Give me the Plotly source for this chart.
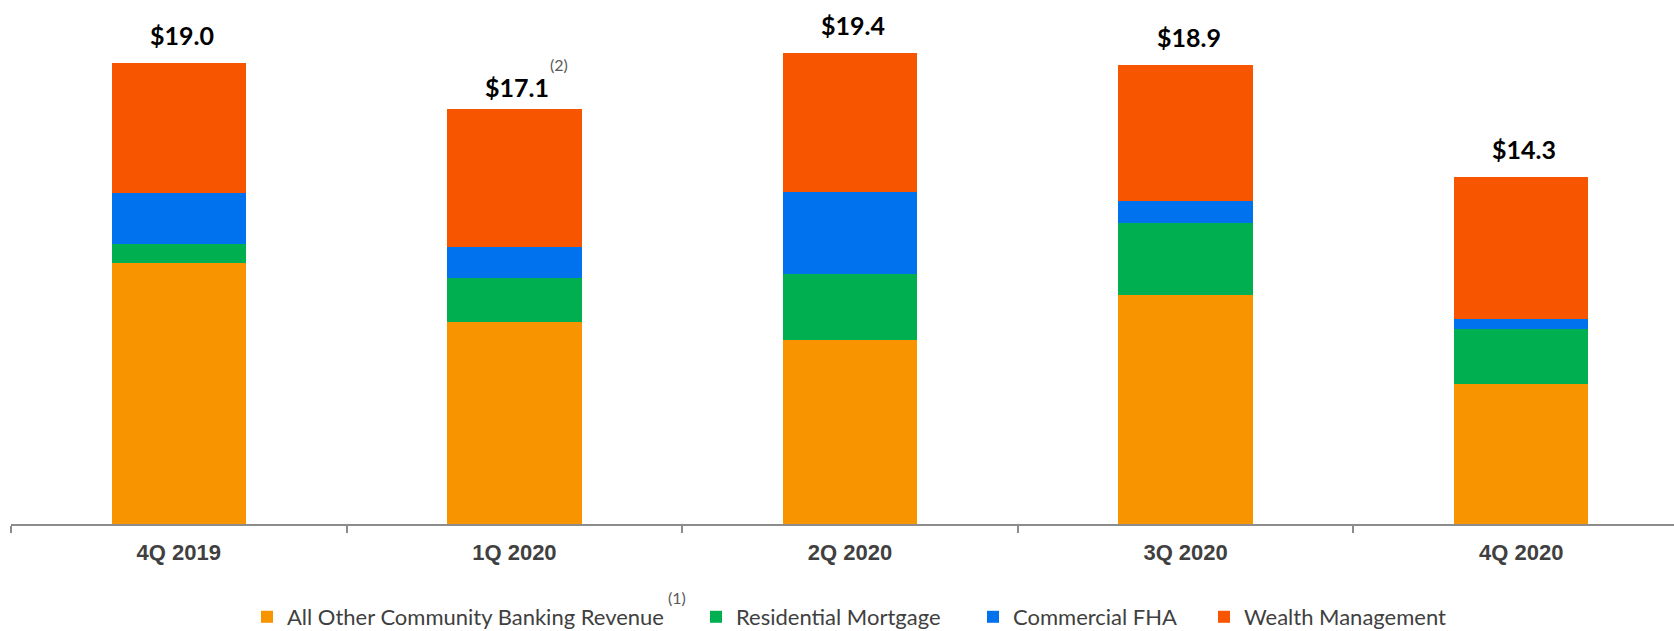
import plotly.graph_objects as go

categories = ["4Q 2019", "1Q 2020", "2Q 2020", "3Q 2020", "4Q 2020"]
all_other = [10.75, 8.32, 7.58, 9.42, 5.77]
residential = [0.77, 1.81, 2.70, 2.99, 2.27]
commercial_fha = [2.09, 1.27, 3.41, 0.89, 0.40]
wealth = [5.39, 5.70, 5.71, 5.60, 5.86]
totals = [19.0, 17.1, 19.4, 18.9, 14.3]
total_labels = ["$19.0", "$17.1", "$19.4", "$18.9", "$14.3"]

series = [
    ("All Other Community Banking Revenue", all_other, "#F79400", "legend"),
    ("Residential Mortgage", residential, "#00B050", "legend2"),
    ("Commercial FHA", commercial_fha, "#0072EE", "legend3"),
    ("Wealth Management", wealth, "#F75500", "legend4"),
]

fig = go.Figure()
for name, vals, color, lg in series:
    fig.add_trace(go.Bar(
        x=categories, y=vals, name=name, width=0.4,
        marker=dict(color=color, line=dict(width=0)),
        legend=lg, hoverinfo="x+y+name",
    ))

W, H = 1674, 631
ml, mr, mt, mb = 11, 0, 14, 107
pw = W - ml - mr
ph = H - mt - mb
axis_px = H - mb

def px_to_paper_x(px):
    return (px - ml) / pw

def px_to_paper_y(py):
    return (axis_px - py) / ph

label_font = dict(family="Lato, Calibri, Carlito, sans-serif", size=25, color="#000000")
annotations = []
for i, (t, lab) in enumerate(zip(totals, total_labels)):
    annotations.append(dict(
        x=categories[i], y=t, xref="x", yref="y", text="<b>%s</b>" % lab,
        showarrow=False, yanchor="bottom", yshift=11 if i != 1 else 5, xshift=3,
        font=label_font,
    ))
# footnote markers
annotations.append(dict(
    x=categories[1], y=totals[1], xref="x", yref="y", text="(2)",
    showarrow=False, yanchor="middle", xanchor="center", xshift=45, yshift=44,
    font=dict(family="Lato, Calibri, sans-serif", size=16, color="#595959"),
))
annotations.append(dict(
    x=px_to_paper_x(677), y=px_to_paper_y(597), xref="paper", yref="paper",
    text="(1)", showarrow=False, xanchor="center", yanchor="middle",
    font=dict(family="Lato, Calibri, sans-serif", size=16, color="#595959"),
))

legend_font = dict(family="Lato, Calibri, sans-serif", size=22, color="#404040")
text_starts = [287, 736, 1013, 1244]
legends = {}
for key, ts in zip(["legend", "legend2", "legend3", "legend4"], text_starts):
    legends[key] = dict(
        orientation="h", x=px_to_paper_x(ts - 40), xanchor="left",
        y=px_to_paper_y(596), yanchor="top", font=legend_font,
        bgcolor="rgba(0,0,0,0)", borderwidth=0,
    )

fig.update_layout(
    width=W, height=H,
    margin=dict(l=ml, r=mr, t=mt, b=mb, pad=0, autoexpand=False),
    barmode="stack",
    plot_bgcolor="white", paper_bgcolor="white",
    showlegend=True,
    annotations=annotations,
    xaxis=dict(
        type="category", range=[-0.5, -0.5 + pw / 335.6],
        tickson="boundaries", ticks="outside", ticklen=7, tickwidth=1.5,
        tickcolor="#8C8C8C", showline=True, linecolor="#8C8C8C", linewidth=2,
        showgrid=False, zeroline=False, ticklabelstandoff=8, automargin=False,
        tickfont=dict(family="Liberation Sans, Arial, sans-serif",
                      size=22, color="#404040"),
        tickprefix="<b>", ticksuffix="</b>",
    ),
    yaxis=dict(range=[0, 21], visible=False, showgrid=False, zeroline=False,
               automargin=False),
    **legends,
)

fig.write_html("out.html")
